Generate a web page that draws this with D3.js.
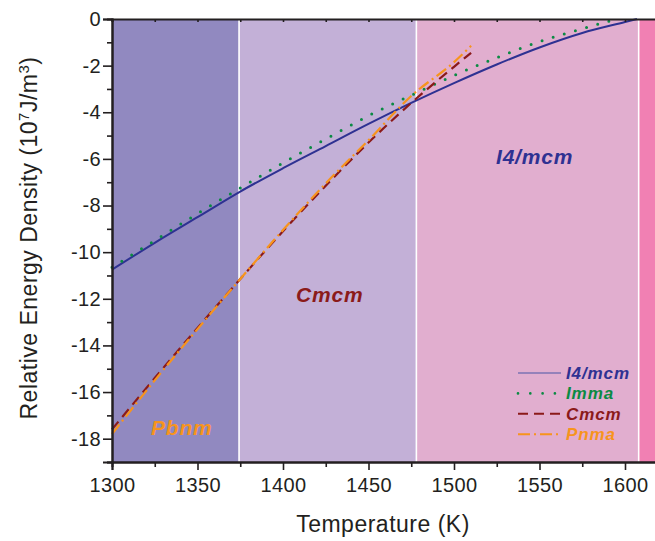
<!DOCTYPE html>
<html>
<head>
<meta charset="utf-8">
<script src="https://cdn.jsdelivr.net/npm/d3@7"></script>
<style>
  body { margin: 0; background: #fff; }
  svg { font-family: "Liberation Sans", Arial, sans-serif; }
</style>
</head>
<body>
<script>
// phase regions (temperature bounds) and fills
var regionNames = ["Pbnm", "Cmcm", "I4/mcm", "high"];
var regionBounds = [1300, 1374.3, 1478, 1608, 1620];
var regionColors = ["#9189c0", "#c3b0d7", "#e1aecf", "#f180b3"];

// curves
var tI4 = [1300, 1325, 1350, 1375, 1400, 1425, 1450, 1475, 1500, 1525, 1550, 1575, 1600, 1607];
var eI4 = [-10.75, -9.6, -8.5, -7.4, -6.4, -5.45, -4.5, -3.6, -2.75, -1.95, -1.22, -0.6, -0.13, 0];

var tImma = [1300, 1325, 1350, 1375, 1400, 1425, 1450, 1475, 1500, 1525, 1550, 1575, 1595];
var eImma = [-10.65, -9.5, -8.35, -7.25, -6.17, -5.15, -4.15, -3.27, -2.42, -1.66, -0.97, -0.42, 0];

var tCmcm = [1300, 1325, 1350, 1375, 1400, 1425, 1450, 1475, 1500, 1510];
var eCmcm = [-17.6, -15.4, -13.25, -11.15, -9.1, -7.15, -5.3, -3.6, -2.05, -1.45];

var tPnma = [1300, 1325, 1350, 1375, 1400, 1425, 1450, 1475, 1500, 1510];
var ePnma = [-17.8, -15.5, -13.3, -11.15, -9.05, -7.05, -5.2, -3.3, -1.85, -1.15];

var xTicks = [1300, 1350, 1400, 1450, 1500, 1550, 1600];
var yTicks = [0, -2, -4, -6, -8, -10, -12, -14, -16, -18];

var W = 655, H = 541;
var mLeft = 112, mTop = 19, mBottom = 462;

var x = d3.scaleLinear().domain([1300, 1620]).range([mLeft, mLeft + 320 * 1.71]);
var y = d3.scaleLinear().domain([-19, 0]).range([mBottom, mTop]);

var svg = d3.select("body").append("svg")
  .attr("width", W)
  .attr("height", H);

// background bands
svg.selectAll(".band")
  .data(regionColors)
  .enter().append("rect")
  .attr("x", function(d, i) { return x(regionBounds[i]); })
  .attr("y", mTop)
  .attr("width", function(d, i) { return x(regionBounds[i + 1]) - x(regionBounds[i]); })
  .attr("height", mBottom - mTop)
  .attr("fill", function(d) { return d; });

// white separators
svg.selectAll(".sep")
  .data(regionBounds.slice(1, 4))
  .enter().append("line")
  .attr("x1", function(d) { return x(d); })
  .attr("x2", function(d) { return x(d); })
  .attr("y1", mTop)
  .attr("y2", mBottom)
  .attr("stroke", "#fff")
  .attr("stroke-width", 1.6);

var series = [
  {name: "I4/mcm", t: tI4, e: eI4, color: "#2e3192", width: 2, dash: null, cap: "butt"},
  {name: "Imma", t: tImma, e: eImma, color: "#0b8a43", width: 3, dash: "0,11.6", cap: "round"},
  {name: "Cmcm", t: tCmcm, e: eCmcm, color: "#8b1a1a", width: 2.2, dash: "10,6", cap: "butt"},
  {name: "Pnma", t: tPnma, e: ePnma, color: "#f7941d", width: 2.2, dash: "12,4,2,4", cap: "butt"}
];

var line = d3.line()
  .x(function(d) { return x(d[0]); })
  .y(function(d) { return y(d[1]); })
  .curve(d3.curveMonotoneX);

series.forEach(function(s) {
  svg.append("path")
    .datum(d3.zip(s.t, s.e))
    .attr("d", line)
    .attr("fill", "none")
    .attr("stroke", s.color)
    .attr("stroke-width", s.width)
    .attr("stroke-linecap", s.cap)
    .attr("stroke-dasharray", s.dash);
});

// region labels
var labels = [
  {text: "Pbnm", x: 151, y: 435, color: "#f7941d"},
  {text: "Cmcm", x: 296, y: 302, color: "#8b1a1a"},
  {text: "I4/mcm", x: 496, y: 164, color: "#2e3192"}
];
svg.selectAll(".rlab")
  .data(labels)
  .enter().append("text")
  .attr("x", function(d) { return d.x; })
  .attr("y", function(d) { return d.y; })
  .attr("fill", function(d) { return d.color; })
  .attr("font-size", 21)
  .attr("letter-spacing", 0.8)
  .attr("font-weight", "bold")
  .attr("font-style", "italic")
  .text(function(d) { return d.text; });

// legend
var lg = svg.append("g");
series.forEach(function(s, i) {
  var ly = 373 + i * 20.4;
  lg.append("line")
    .attr("x1", 518).attr("x2", 561)
    .attr("y1", ly).attr("y2", ly)
    .attr("stroke", i == 0 ? "#4a56a6" : s.color)
    .attr("stroke-width", i == 0 ? 1.2 : s.width * 0.9)
    .attr("stroke-linecap", s.cap)
    .attr("stroke-dasharray", i == 1 ? "0,12.3" : s.dash);
  lg.append("text")
    .attr("x", 566).attr("y", ly + 6)
    .attr("fill", s.color)
    .attr("font-size", 17)
    .attr("letter-spacing", 0.9)
    .attr("font-weight", "bold")
    .attr("font-style", "italic")
    .text(s.name);
});

// axes
var ax = "#231f20";
svg.append("g")
  .attr("transform", "translate(0," + mBottom + ")")
  .call(d3.axisBottom(x).tickValues(xTicks).tickSize(8).tickPadding(8)
    .tickFormat(function(d) { return d; }));
svg.append("g")
  .attr("transform", "translate(0," + mBottom + ")")
  .call(d3.axisBottom(x).tickValues(xTicks.map(function(d) { return d + 25; })).tickSize(5).tickFormat(""));

svg.append("g")
  .attr("transform", "translate(" + mLeft + ",0)")
  .call(d3.axisLeft(y).tickValues(yTicks).tickSize(9).tickPadding(2)
    .tickFormat(function(d) { return String(d); }));
svg.append("g")
  .attr("transform", "translate(" + mLeft + ",0)")
  .call(d3.axisLeft(y).tickValues(yTicks.map(function(d) { return d - 1; })).tickSize(5).tickFormat(""));

// top axis, short inward ticks
svg.append("g")
  .attr("transform", "translate(0," + mTop + ")")
  .call(d3.axisBottom(x).tickValues(d3.range(1300, 1620, 25)).tickSize(3).tickFormat(""));

svg.selectAll(".domain").attr("stroke", ax).attr("stroke-width", 2);
svg.selectAll(".tick line").attr("stroke", ax).attr("stroke-width", 1.6);
svg.selectAll(".tick text").attr("fill", ax).attr("font-size", 20)
  .attr("letter-spacing", 0.4)
  .attr("font-family", "'Liberation Sans', Arial, sans-serif");

// axis titles
svg.append("text")
  .attr("x", 383).attr("y", 532)
  .attr("text-anchor", "middle")
  .attr("font-size", 23)
  .attr("letter-spacing", 0.5)
  .attr("fill", ax)
  .text("Temperature (K)");

var yt = svg.append("text")
  .attr("transform", "translate(37,238) rotate(-90)")
  .attr("text-anchor", "middle")
  .attr("font-size", 23)
  .attr("letter-spacing", 0.5)
  .attr("fill", ax);
yt.append("tspan").text("Relative Energy Density (10");
yt.append("tspan").attr("baseline-shift", "super").attr("font-size", 15).text("7");
yt.append("tspan").text("J/m");
yt.append("tspan").attr("baseline-shift", "super").attr("font-size", 15).text("3");
yt.append("tspan").text(")");
</script>
</body>
</html>
